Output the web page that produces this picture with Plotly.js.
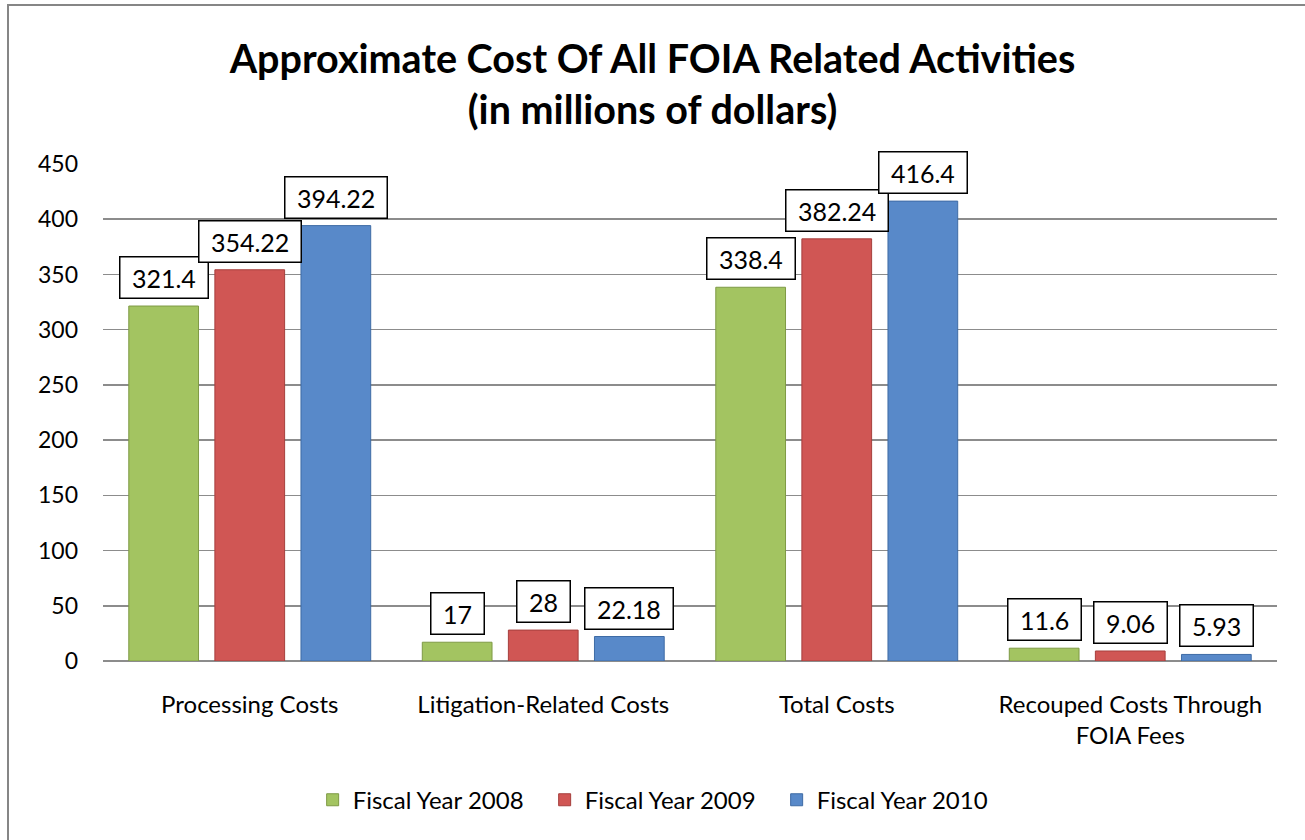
<!DOCTYPE html>
<html>
<head>
<meta charset="utf-8">
<script src="https://cdn.plot.ly/plotly-3.0.1.min.js"></script>
<style>
  html, body { margin: 0; padding: 0; background: #fff; }
  #frame { position: absolute; left: 7px; top: 4px; width: 1400px; height: 900px; border: 2px solid #868686; box-sizing: border-box; pointer-events: none; }
  #chart { width: 1305px; height: 840px; }
</style>
</head>
<body>
<div id="chart"></div>
<div id="frame"></div>
<script>
// Data
const categories = ["Processing Costs", "Litigation-Related Costs", "Total Costs", "Recouped Costs Through<br>FOIA Fees"];
const seriesNames = ["Fiscal Year 2008", "Fiscal Year 2009", "Fiscal Year 2010"];
const fy2008 = [321.4, 17, 338.4, 11.6];
const fy2009 = [354.22, 28, 382.24, 9.06];
const fy2010 = [394.22, 22.18, 416.4, 5.93];
const labels2008 = ["321.4", "17", "338.4", "11.6"];
const labels2009 = ["354.22", "28", "382.24", "9.06"];
const labels2010 = ["394.22", "22.18", "416.4", "5.93"];
const yTicks = [0, 50, 100, 150, 200, 250, 300, 350, 400, 450];

// Styles
const fills = ["#A3C461", "#D05654", "#5889C9"];
const outlines = ["#7E9A45", "#A63F3D", "#3E6BA5"];
const FONT = "Lato, 'Open Sans', sans-serif";
const bargap = 0.12;
const bargroupgap = 0.19;

const allValues = [fy2008, fy2009, fy2010];
const allLabels = [labels2008, labels2009, labels2010];

const traces = allValues.map((vals, i) => ({
  type: "bar",
  name: seriesNames[i],
  x: categories,
  y: vals,
  marker: { color: fills[i], line: { color: outlines[i], width: 1 } },
  hoverinfo: "skip"
}));

const slot = (1 - bargap) / allValues.length;
const annotations = [];
allValues.forEach((vals, i) => {
  vals.forEach((v, k) => {
    annotations.push({
      x: k + (i - (allValues.length - 1) / 2) * slot,
      y: v,
      xref: "x", yref: "y",
      text: "&nbsp;" + allLabels[i][k] + "&nbsp;",
      showarrow: false,
      yanchor: "bottom",
      yshift: 7,
      font: { family: FONT, size: 25, color: "#000" },
      bgcolor: "#fff",
      bordercolor: "#000",
      borderwidth: 1.5,
      borderpad: 5
    });
  });
});

const layout = {
  width: 1305,
  height: 840,
  paper_bgcolor: "#fff",
  plot_bgcolor: "#fff",
  margin: { l: 103, r: 28, t: 164, b: 179 },
  title: {
    text: "<b>Approximate Cost Of All FOIA Related Activities<br>(in millions of dollars)</b>",
    font: { family: FONT, size: 39.5, color: "#000" },
    x: 0.5, xanchor: "center",
    y: 0.913, yanchor: "top", yref: "container"
  },
  bargap: bargap,
  bargroupgap: bargroupgap,
  showlegend: true,
  legend: {
    orientation: "h",
    x: 0.475, xanchor: "center",
    y: -0.28, yanchor: "middle",
    font: { family: FONT, size: 24, color: "#000" },
    itemwidth: 30,
    entrywidth: 187,
    tracegroupgap: 0
  },
  xaxis: {
    type: "category",
    tickfont: { family: FONT, size: 24, color: "#000" },
    showgrid: false,
    ticks: "",
    showline: false,
    ticklabelstandoff: 27,
    fixedrange: true
  },
  yaxis: {
    range: [0, 450],
    tickvals: yTicks,
    ticktext: yTicks.map(String),
    tickfont: { family: FONT, size: 23, color: "#000" },
    showgrid: true,
    gridcolor: "#8C8C8C",
    gridwidth: 1.6,
    zeroline: true,
    zerolinecolor: "#8C8C8C",
    zerolinewidth: 1.6,
    showline: false,
    ticks: "",
    ticklabelstandoff: 24,
    fixedrange: true
  },
  annotations: annotations
};

Plotly.newPlot("chart", traces, layout, { displayModeBar: false, staticPlot: true });
</script>
</body>
</html>
